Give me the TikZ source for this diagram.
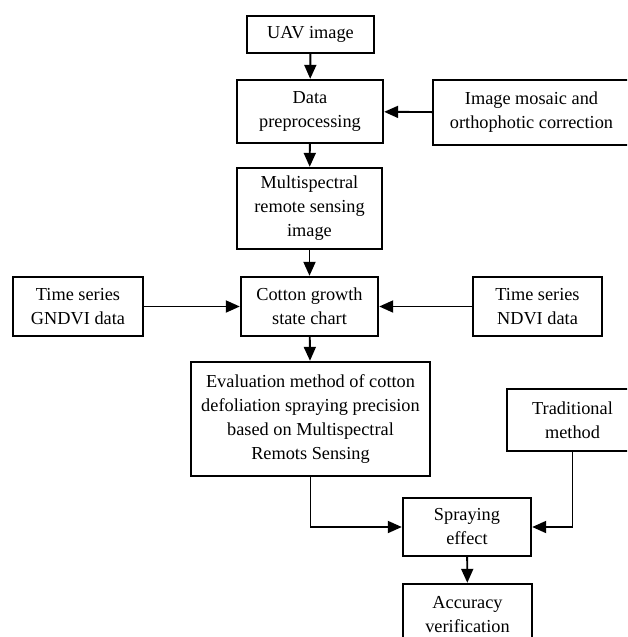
\documentclass[tikz,border=0pt]{standalone}
\usepackage{fontspec}
\setmainfont{Liberation Serif}
\usetikzlibrary{arrows.meta}
\begin{document}
\begin{tikzpicture}[x=1pt,y=-1pt,
  box/.style={draw, line width=2.4pt, inner sep=0pt, align=center,
    font=\fontsize{18.3}{24}\selectfont},
  conn/.style={line width=1.9pt, -{Triangle[length=14pt,width=12pt]}}]
\useasboundingbox (0,0) rectangle (627,637);
\clip (0,0) rectangle (627,637);
\fill[white] (0,0) rectangle (627,637);
\node[box, minimum width=127pt, minimum height=37pt] (uav) at (310.5,34.5) {UAV image};
\node[box, minimum width=146pt, minimum height=63pt] (data) at (310,111.5) {Data\\preprocessing};
\node[box, minimum width=197pt, minimum height=65pt] (mosaic) at (531.5,112.5) {Image mosaic and\\orthophotic correction};
\node[box, minimum width=145pt, minimum height=81pt] (multi) at (309.5,208.5) {Multispectral\\remote sensing\\image};
\node[box, minimum width=130pt, minimum height=59pt] (gndvi) at (78,306.5) {Time series\\GNDVI data};
\node[box, minimum width=137pt, minimum height=59pt] (cotton) at (309.5,306.5) {Cotton growth\\state chart};
\node[box, minimum width=129pt, minimum height=59pt] (ndvi) at (537.5,306.5) {Time series\\NDVI data};
\node[box, minimum width=239pt, minimum height=114pt] (eval) at (310.5,419) {Evaluation method of cotton\\defoliation spraying precision\\based on Multispectral\\Remots Sensing};
\node[box, minimum width=131pt, minimum height=62pt] (trad) at (572.5,420) {Traditional\\method};
\node[box, minimum width=128pt, minimum height=58pt] (spray) at (467,527) {Spraying\\effect};
\node[box, minimum width=129pt, minimum height=61pt] (acc) at (467.5,614.5) {Accuracy\\verification};
\draw[conn] (uav) -- (data);
\draw[conn] (mosaic) -- (data);
\draw[conn] (data) -- (multi);
\draw[conn] (multi) -- (cotton);
\draw[conn] (gndvi) -- (cotton);
\draw[conn] (ndvi) -- (cotton);
\draw[conn] (cotton) -- (eval);
\draw[conn] (eval.south) |- (spray.west);
\draw[conn] (trad.south) |- (spray.east);
\draw[conn] (spray) -- (acc);
\end{tikzpicture}
\end{document}
